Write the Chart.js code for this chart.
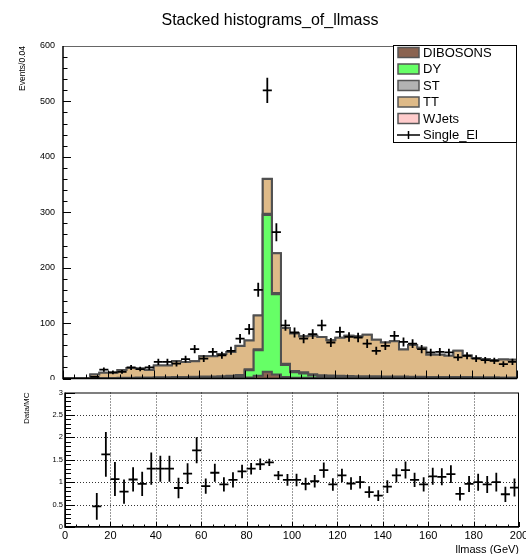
<!DOCTYPE html>
<html>
<head>
<meta charset="utf-8">
<script src="https://cdn.jsdelivr.net/npm/chart.js@4.4.0/dist/chart.umd.min.js"></script>
<style>
  body { margin: 0; background: #fff; }
  #wrap { position: relative; width: 526px; height: 554px; overflow: hidden; }
  #title { position: absolute; left: 7px; top: 10px; width: 526px; text-align: center;
           font: 16px 'Liberation Sans', Arial, Helvetica, sans-serif; line-height: 20px; color: #000; }
  #topPad { position: absolute; left: 0; top: 0; }
  #ratioPad { position: absolute; left: 0; top: 380px; }
</style>
</head>
<body>
<div id="wrap">
  <canvas id="topPad" width="526" height="380"></canvas>
  <canvas id="ratioPad" width="526" height="174"></canvas>
  <div id="title">Stacked histograms_of_llmass</div>
</div>
<script>
// llmass binning, 4 GeV bins from 0 to 200
const massEdges = [0, 4, 8, 12, 16, 20, 24, 28, 32, 36, 40, 44, 48, 52, 56, 60, 64, 68, 72, 76,
  80, 84, 88, 92, 96, 100, 104, 108, 112, 116, 120, 124, 128, 132, 136, 140, 144, 148, 152, 156,
  160, 164, 168, 172, 176, 180, 184, 188, 192, 196, 200];

// MC samples, events per bin (stacked bottom to top)
const dibosons = [0, 0, 0, 0.2, 0.3, 0.3, 0.4, 0.4, 0.5, 0.5,
  0.6, 0.6, 0.7, 0.7, 0.8, 0.9, 1.0, 1.1, 1.3, 1.6,
  2.0, 5.0, 12.0, 7.0, 2.5, 1.5, 1.2, 1.1, 1.0, 1.0,
  0.9, 0.9, 0.8, 0.8, 0.8, 0.7, 0.7, 0.7, 0.6, 0.6,
  0.6, 0.5, 0.5, 0.5, 0.5, 0.5, 0.4, 0.4, 0.4, 0.4];
const drellYan = [0, 0, 0, 0.3, 0.4, 0.4, 0.5, 0.5, 0.6, 0.6,
  0.7, 0.8, 0.8, 0.9, 1.0, 1.1, 1.3, 1.5, 2.0, 3.0,
  13, 46, 283, 145, 22, 10, 8, 4.5, 3.0, 2.5,
  2.0, 1.8, 1.6, 1.5, 1.4, 1.3, 1.2, 1.1, 1.0, 1.0,
  0.9, 0.9, 0.8, 0.8, 0.8, 0.7, 0.7, 0.7, 0.6, 0.6];
const singleTop = [0, 0, 0, 0.2, 0.3, 0.4, 0.5, 0.6, 0.7, 0.8,
  0.9, 1.0, 1.1, 1.2, 1.3, 1.4, 1.5, 1.6, 1.7, 1.8,
  1.9, 2.0, 2.2, 2.1, 2.1, 2.0, 2.0, 2.0, 1.9, 1.9,
  1.9, 1.8, 1.8, 1.8, 1.7, 1.7, 1.6, 1.6, 1.5, 1.5,
  1.4, 1.4, 1.3, 1.3, 1.2, 1.2, 1.1, 1.1, 1.0, 1.0];
const ttbar = [0, 0, 0.5, 6.3, 9.2, 9.3, 14.1, 17.5, 16.2, 13.6,
  21.2, 21.0, 28.4, 27.2, 27.9, 36.6, 36.5, 39.8, 43.0, 52.1,
  51.6, 60.5, 62.8, 71.9, 64.4, 67.5, 64.8, 69.4, 69.1, 63.6,
  68.7, 72.5, 71.8, 74.9, 66.1, 61.3, 63.5, 49.1, 57.4, 52.4,
  40.1, 40.2, 38.4, 47.4, 39.0, 34.6, 32.8, 30.8, 32.5, 32.0];
const wJets = [0, 0, 0, 0, 0, 0, 0, 0, 0, 0.3,
  0, 0, 0.4, 0, 0, 0.3, 0, 0, 0, 0.5,
  0, 0.4, 0.6, 0, 0, 0, 0.3, 0, 0, 0,
  0, 0, 0.3, 0, 0, 0, 0, 0, 0, 0,
  0.2, 0, 0, 0, 0, 0, 0, 0, 0, 0];

// Single_El data counts
const observed = [0, 0, 0, 3, 16, 11, 12, 20, 17, 20,
  30, 30, 27, 35, 53, 36, 48, 42, 50, 72,
  89, 160, 520, 264, 96, 83, 72, 80, 96, 65,
  84, 75, 74, 63, 50, 59, 77, 66, 63, 53,
  47, 48, 47, 38, 41, 36, 33, 32, 26, 30];

// Data/MC ratio and its uncertainty
const ratio = [null, null, null, 0.46, 1.62, 1.07, 0.79, 1.06, 0.96, 1.30,
  1.30, 1.30, 0.87, 1.19, 1.71, 0.91, 1.21, 0.95, 1.05, 1.24,
  1.30, 1.40, 1.44, 1.15, 1.05, 1.05, 0.96, 1.02, 1.27, 0.95,
  1.15, 0.97, 1.00, 0.78, 0.70, 0.90, 1.15, 1.27, 1.05, 0.95,
  1.13, 1.12, 1.18, 0.74, 0.96, 1.00, 0.95, 1.00, 0.73, 0.88];
const ratioErr = [0, 0, 0, 0.30, 0.50, 0.38, 0.27, 0.27, 0.27, 0.36,
  0.29, 0.29, 0.23, 0.23, 0.29, 0.17, 0.20, 0.16, 0.17, 0.15,
  0.13, 0.13, 0.08, 0.10, 0.13, 0.14, 0.14, 0.14, 0.17, 0.14,
  0.15, 0.14, 0.14, 0.13, 0.12, 0.14, 0.16, 0.19, 0.16, 0.16,
  0.19, 0.19, 0.20, 0.15, 0.18, 0.19, 0.19, 0.21, 0.17, 0.20];

const FONT = "'Liberation Sans', Arial, Helvetica, sans-serif";
Chart.defaults.font.family = FONT;
Chart.defaults.color = '#000';

const stackSamples = [
  { label: 'DIBOSONS', values: dibosons, color: '#8a6350' },
  { label: 'DY', values: drellYan, color: '#66ff66' },
  { label: 'ST', values: singleTop, color: '#b3b3b3' },
  { label: 'TT', values: ttbar, color: '#deba88' },
  { label: 'WJets', values: wJets, color: '#ffcccc' }
];

// histogram as step line: one point per low edge, last value repeated at the upper edge
function stepPoints(values) {
  return massEdges.map((x, i) => ({ x: x, y: values[Math.min(i, values.length - 1)] }));
}

// keep tick labels from pushing the plot area in
function noLabelPadding(scale) {
  scale.paddingTop = 0;
  scale.paddingBottom = 0;
  scale.paddingLeft = 0;
  scale.paddingRight = 0;
}

function clipTo(ctx, a) {
  ctx.beginPath();
  ctx.rect(a.left, a.top, a.right - a.left, a.bottom - a.top);
  ctx.clip();
}

// ROOT-like inward ticks
function drawTicks(ctx, chart, xMinor, xMajor, xLen, yMinor, yMajor, yLen) {
  const { chartArea: a, scales: { x, y } } = chart;
  ctx.strokeStyle = '#000';
  ctx.lineWidth = 1;
  ctx.beginPath();
  const nx = Math.round((x.max - x.min) / xMinor);
  for (let k = 0; k <= nx; k++) {
    const px = Math.round(x.getPixelForValue(x.min + k * xMinor)) + 0.5;
    const len = (k % xMajor === 0) ? xLen[0] : xLen[1];
    ctx.moveTo(px, a.bottom);
    ctx.lineTo(px, a.bottom - len);
  }
  const ny = Math.round((y.max - y.min) / yMinor);
  for (let k = 0; k <= ny; k++) {
    const py = Math.round(y.getPixelForValue(y.min + k * yMinor)) + 0.5;
    const len = (k % yMajor === 0) ? yLen[0] : yLen[1];
    ctx.moveTo(a.left, py);
    ctx.lineTo(a.left + len, py);
  }
  ctx.stroke();
}

function drawCrosses(ctx, chart, values, errors) {
  const { chartArea: a, scales: { x, y } } = chart;
  ctx.save();
  clipTo(ctx, a);
  ctx.strokeStyle = '#000';
  ctx.lineWidth = 1.8;
  values.forEach((v, i) => {
    if (!v) return;
    const x0 = x.getPixelForValue(massEdges[i]);
    const x1 = x.getPixelForValue(massEdges[i + 1]);
    const xc = (x0 + x1) / 2;
    const yc = y.getPixelForValue(v);
    const e = errors(v, i);
    ctx.beginPath();
    ctx.moveTo(x0, yc);
    ctx.lineTo(x1, yc);
    ctx.moveTo(xc, y.getPixelForValue(v + e));
    ctx.lineTo(xc, y.getPixelForValue(v - e));
    ctx.stroke();
  });
  ctx.restore();
}

function drawLegend(ctx) {
  const left = 393.5, top = 45.5, w = 123, h = 97;
  ctx.save();
  ctx.fillStyle = '#fff';
  ctx.fillRect(left, top, w, h);
  ctx.strokeStyle = '#000';
  ctx.lineWidth = 1;
  ctx.strokeRect(left, top, w, h);
  ctx.font = '13px ' + FONT;
  ctx.textBaseline = 'middle';
  const rowH = 16.5, firstY = 52.5;
  stackSamples.forEach((s, i) => {
    const cy = firstY + i * rowH;
    ctx.fillStyle = s.color;
    ctx.fillRect(398, cy - 5, 21, 10);
    ctx.strokeStyle = '#555';
    ctx.lineWidth = 1.5;
    ctx.strokeRect(398, cy - 5, 21, 10);
    ctx.fillStyle = '#000';
    ctx.fillText(s.label, 423, cy + 0.5);
  });
  const cy = firstY + stackSamples.length * rowH;
  ctx.strokeStyle = '#000';
  ctx.lineWidth = 1.5;
  ctx.beginPath();
  ctx.moveTo(397, cy); ctx.lineTo(420, cy);
  ctx.moveTo(408.5, cy - 4); ctx.lineTo(408.5, cy + 4);
  ctx.stroke();
  ctx.fillStyle = '#000';
  ctx.fillText('Single_El', 423, cy + 0.5);
  ctx.restore();
}

const topDecor = {
  id: 'topDecor',
  afterDatasetsDraw(chart) {
    const ctx = chart.ctx, a = chart.chartArea;
    drawCrosses(ctx, chart, observed, v => Math.sqrt(v));
    ctx.save();
    drawTicks(ctx, chart, 5, 4, [8, 4], 20, 5, [8, 4.5]);
    // frame
    ctx.lineWidth = 1;
    ctx.strokeStyle = '#666';
    ctx.beginPath();
    ctx.moveTo(a.left, a.top + 0.5); ctx.lineTo(a.right, a.top + 0.5);
    ctx.stroke();
    ctx.strokeStyle = '#222';
    ctx.beginPath();
    ctx.moveTo(a.right - 0.5, a.top); ctx.lineTo(a.right - 0.5, a.bottom);
    ctx.stroke();
    ctx.strokeStyle = '#000';
    ctx.lineWidth = 1.5;
    ctx.beginPath();
    ctx.moveTo(a.left, a.top); ctx.lineTo(a.left, a.bottom); ctx.lineTo(a.right, a.bottom);
    ctx.stroke();
    ctx.restore();
    drawLegend(ctx);
  }
};

new Chart(document.getElementById('topPad'), {
  type: 'line',
  data: {
    datasets: stackSamples.map((s, i) => ({
      label: s.label,
      data: stepPoints(s.values),
      stepped: true,
      fill: i === 0 ? 'origin' : '-1',
      backgroundColor: s.color,
      borderColor: '#505050',
      borderWidth: 2,
      pointRadius: 0,
      pointHoverRadius: 0
    }))
  },
  options: {
    responsive: false,
    animation: false,
    devicePixelRatio: 1,
    layout: { padding: { left: 0, right: 9, top: 46, bottom: 1.5 } },
    plugins: { legend: { display: false }, tooltip: { enabled: false } },
    scales: {
      x: { type: 'linear', min: 0, max: 200, display: false },
      y: {
        stacked: true, min: 0, max: 600,
        grid: { display: false, drawTicks: false },
        border: { display: false },
        ticks: { stepSize: 100, font: { size: 9 }, padding: 8 },
        title: { display: true, text: 'Events/0.04', align: 'end', font: { size: 8.5 }, padding: { top: 17.8, bottom: 0 } },
        afterFit(scale) { scale.width = 63; noLabelPadding(scale); }
      }
    }
  },
  plugins: [topDecor]
});

const ratioDecor = {
  id: 'ratioDecor',
  beforeDatasetsDraw(chart) {
    const { ctx, chartArea: a, scales: { x, y } } = chart;
    ctx.save();
    ctx.strokeStyle = '#333';
    ctx.lineWidth = 1;
    ctx.setLineDash([1, 2]);
    ctx.beginPath();
    for (let v = 20; v < 200; v += 20) {
      const px = Math.round(x.getPixelForValue(v)) + 0.5;
      ctx.moveTo(px, a.top); ctx.lineTo(px, a.bottom);
    }
    for (let k = 1; k < 6; k++) {
      const py = Math.round(y.getPixelForValue(k * 0.5)) + 0.5;
      ctx.moveTo(a.left, py); ctx.lineTo(a.right, py);
    }
    ctx.stroke();
    ctx.restore();
  },
  afterDatasetsDraw(chart) {
    const ctx = chart.ctx, a = chart.chartArea;
    drawCrosses(ctx, chart, ratio, (v, i) => ratioErr[i]);
    ctx.save();
    drawTicks(ctx, chart, 5, 4, [5, 2.5], 0.1, 5, [10, 6]);
    ctx.strokeStyle = '#000';
    ctx.lineWidth = 1;
    ctx.strokeRect(a.left + 0.5, a.top + 0.5, a.right - a.left - 1, a.bottom - a.top - 1);
    ctx.lineWidth = 1.5;
    ctx.beginPath();
    ctx.moveTo(a.left, a.top); ctx.lineTo(a.left, a.bottom); ctx.lineTo(a.right, a.bottom);
    ctx.stroke();
    ctx.restore();
  }
};

new Chart(document.getElementById('ratioPad'), {
  type: 'scatter',
  data: {
    datasets: [{
      label: 'Data/MC',
      data: ratio.map((r, i) => ({ x: (massEdges[i] + massEdges[i + 1]) / 2, y: r })),
      pointRadius: 0,
      pointHoverRadius: 0,
      showLine: false
    }]
  },
  options: {
    responsive: false,
    animation: false,
    devicePixelRatio: 1,
    layout: { padding: { left: 0, right: 7, top: 12.5, bottom: 0 } },
    plugins: { legend: { display: false }, tooltip: { enabled: false } },
    scales: {
      x: {
        type: 'linear', min: 0, max: 200,
        grid: { display: false, drawTicks: false },
        border: { display: false },
        ticks: { stepSize: 20, autoSkip: false, maxRotation: 0, font: { size: 11 }, padding: 2 },
        title: { display: true, text: 'llmass (GeV)', align: 'end', font: { size: 11 }, padding: { top: 0, bottom: -2.5 } },
        afterFit(scale) { scale.height = 27; noLabelPadding(scale); }
      },
      y: {
        min: 0, max: 3,
        grid: { display: false, drawTicks: false },
        border: { display: false },
        ticks: { stepSize: 0.5, font: { size: 7.5 }, padding: 2, callback: v => String(Number(v.toFixed(1))) },
        title: { display: true, text: 'Data/MC', align: 'end', font: { size: 8 }, padding: { top: 22, bottom: 0 } },
        afterFit(scale) { scale.width = 65; noLabelPadding(scale); }
      }
    }
  },
  plugins: [ratioDecor]
});
</script>
</body>
</html>
